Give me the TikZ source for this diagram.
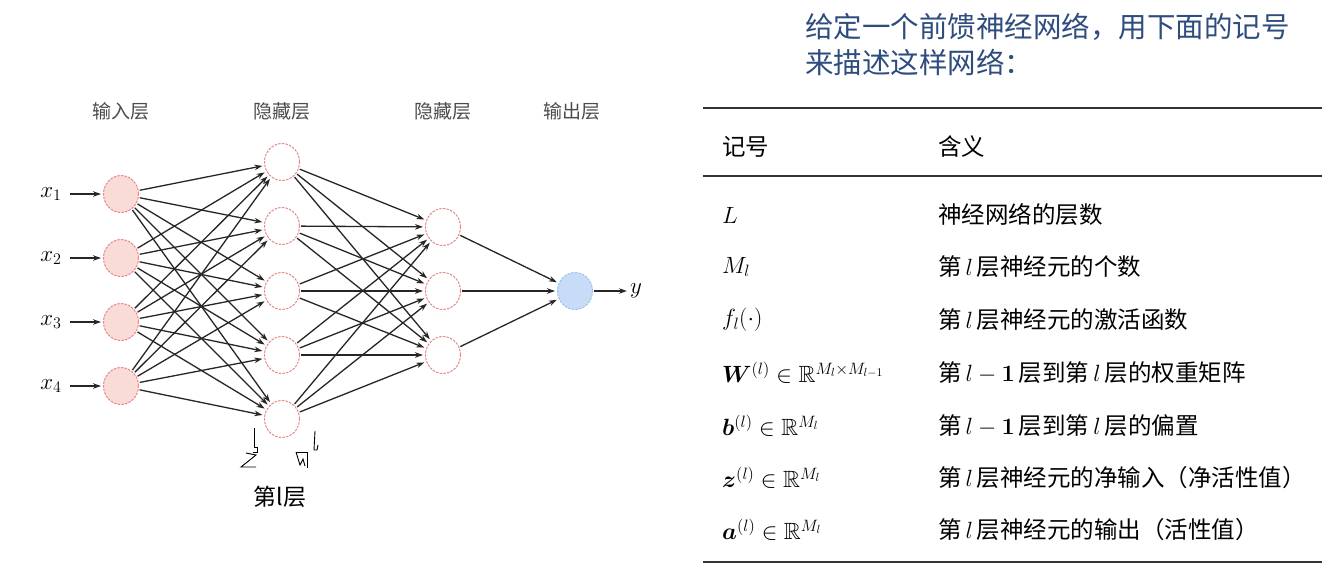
\RequirePackage{fix-cm}
\documentclass[tikz,border=0pt]{standalone}
\usepackage{amsmath,amssymb,bm}
\usepackage{fontspec}
\newfontfamily\cjk{Noto Sans CJK SC}
\usepackage{xcolor}
\usetikzlibrary{arrows.meta, positioning, shapes.geometric}

\definecolor{nodered}{HTML}{E8888A}
\definecolor{nodefill}{HTML}{FADCD6}
\definecolor{outfill}{HTML}{C7DCF6}
\definecolor{outline}{HTML}{9EC2EC}
\definecolor{headblue}{HTML}{2E4C7E}

\begin{document}
\begin{tikzpicture}[
    x=1pt, y=-1pt,
    neuron/.style={ellipse, draw=nodered, dashed, dash pattern=on 2.5pt off 1.2pt, line width=1pt, minimum width=35pt, minimum height=37pt, inner sep=0pt, fill=white},
    innode/.style={neuron, fill=nodefill},
    outnode/.style={neuron, draw=outline, fill=outfill},
    conn/.style={-{Stealth[length=8pt, width=5.5pt]}, line width=1.3pt, draw=black!85, shorten <=1pt, shorten >=2pt},
    layertitle/.style={font=\cjk\fontsize{19}{22}\selectfont, text=black!70},
    varlabel/.style={font=\fontsize{23}{26}\selectfont, inner sep=1pt},
    heading/.style={anchor=west, inner sep=0pt, font=\cjk\fontsize{28.5}{31}\selectfont, text=headblue},
    cell/.style={anchor=west, inner sep=0pt, font=\cjk\fontsize{23.5}{27}\selectfont},
    rule/.style={line width=1.6pt, draw=black!80},
    scribble/.style={line width=0.9pt, draw=black}
]
    \useasboundingbox[fill=white] (0,0) rectangle (1335,576);

    % layer titles
    \node[layertitle] (t1) at (121,111) {输入层};
    \node[layertitle] (t2) at (282,111) {隐藏层};
    \node[layertitle] (t3) at (443,111) {隐藏层};
    \node[layertitle] (t4) at (572,111) {输出层};

    % input layer
    \node[innode] (in1) at (121,194) {};
    \node[innode] (in2) at (121,258) {};
    \node[innode] (in3) at (121,322) {};
    \node[innode] (in4) at (121,386) {};

    % first hidden layer
    \node[neuron] (ha1) at (282,162) {};
    \node[neuron] (ha2) at (282,226) {};
    \node[neuron] (ha3) at (282,291) {};
    \node[neuron] (ha4) at (282,355) {};
    \node[neuron] (ha5) at (282,419) {};

    % second hidden layer
    \node[neuron] (hb1) at (443,227) {};
    \node[neuron] (hb2) at (443,291) {};
    \node[neuron] (hb3) at (443,355) {};

    % output layer
    \node[outnode] (out) at (575,291) {};
    \node[varlabel] (ylab) at (636,291) {$y$};

    \node[varlabel] (xl1) at (51,194) {$x_1$};
    \node[varlabel] (xl2) at (51,258) {$x_2$};
    \node[varlabel] (xl3) at (51,322) {$x_3$};
    \node[varlabel] (xl4) at (51,386) {$x_4$};

    \draw[conn, shorten <=7pt] (xl1) -- (in1);
    \draw[conn, shorten <=7pt] (xl2) -- (in2);
    \draw[conn, shorten <=7pt] (xl3) -- (in3);
    \draw[conn, shorten <=7pt] (xl4) -- (in4);

    \foreach \i in {1,...,4}
        \foreach \j in {1,...,5}
            \draw[conn] (in\i) -- (ha\j);
    \foreach \i in {1,...,5}
        \foreach \j in {1,...,3}
            \draw[conn] (ha\i) -- (hb\j);
    \foreach \i in {1,...,3}
        \draw[conn] (hb\i) -- (out);
    \draw[conn] (out) -- (ylab);

    % handwritten marks under the last neuron
    \draw[scribble] (254,428) -- (254,447) -- (257,447) -- (257,452) -- (253,452);
    \draw[scribble] (246,453) -- (256,455) -- (241,467) -- (256,467);
    \draw[scribble] (315,431) -- (314,450) -- (317,450) -- (318,445);
    \draw[scribble] (296,452) -- (307,452) -- (307,468);
    \draw[scribble] (296,452) -- (300,465) -- (303,459) -- (305,466);
    \node[font=\cjk\fontsize{23}{26}\selectfont] (lname) at (280,497) {第l层};

    % notation table
    \node[heading] (h1) at (805,27) {给定一个前馈神经网络，用下面的记号};
    \node[heading] (h2) at (805,62) {来描述这样网络：};

    \draw[rule] (703,108) -- (1322,108);
    \node[cell] (c0) at (722,147) {记号};
    \node[cell] (d0) at (938,147) {含义};
    \draw[rule, line width=1.2pt] (703,176) -- (1322,176);

    \node[cell] (c1) at (722,215) {$L$};
    \node[cell] (d1) at (938,215) {神经网络的层数};
    \node[cell] (c2) at (722,267) {$M_l$};
    \node[cell] (d2) at (938,267) {第$\,l\,$层神经元的个数};
    \node[cell] (c3) at (722,320) {$f_l(\cdot)$};
    \node[cell] (d3) at (938,320) {第$\,l\,$层神经元的激活函数};
    \node[cell] (c4) at (722,373) {$\bm{W}^{(l)}\in\mathbb{R}^{M_l\times M_{l-1}}$};
    \node[cell] (d4) at (938,373) {第$\,l-\bm{1}\,$层到第$\,l\,$层的权重矩阵};
    \node[cell] (c5) at (722,426) {$\bm{b}^{(l)}\in\mathbb{R}^{M_l}$};
    \node[cell] (d5) at (938,426) {第$\,l-\bm{1}\,$层到第$\,l\,$层的偏置};
    \node[cell] (c6) at (722,478) {$\bm{z}^{(l)}\in\mathbb{R}^{M_l}$};
    \node[cell] (d6) at (938,478) {第$\,l\,$层神经元的净输入（净活性值）};
    \node[cell] (c7) at (722,530) {$\bm{a}^{(l)}\in\mathbb{R}^{M_l}$};
    \node[cell] (d7) at (938,530) {第$\,l\,$层神经元的输出（活性值）};

    \draw[rule, line width=2.4pt] (703,562) -- (1322,562);
\end{tikzpicture}
\end{document}
